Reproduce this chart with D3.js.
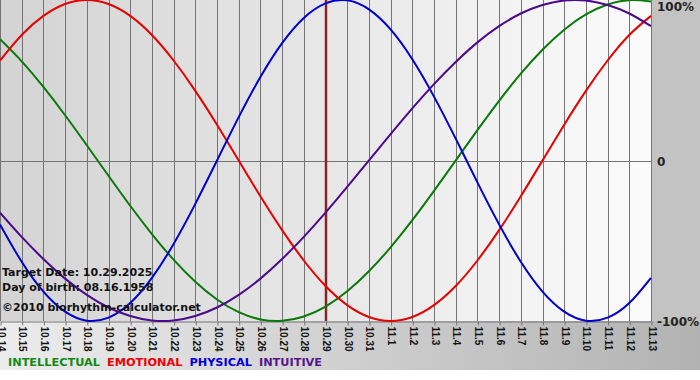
<!DOCTYPE html>
<html>
<head>
<meta charset="utf-8">
<script src="https://cdn.jsdelivr.net/npm/d3@7"></script>
<style>
  body { margin: 0; background: #fff; }
  svg { display: block; }
</style>
</head>
<body>
<div id="chart"></div>
<script>
// day labels along the bottom
const dates = ["10.14", "10.15", "10.16", "10.17", "10.18", "10.19", "10.20", "10.21", "10.22", "10.23",
    "10.24", "10.25", "10.26", "10.27", "10.28", "10.29", "10.30", "10.31", "11.1", "11.2",
    "11.3", "11.4", "11.5", "11.6", "11.7", "11.8", "11.9", "11.10", "11.11", "11.12", "11.13"];

// cycle values per day, -1 .. 1
const intellectual = [0.756, 0.618, 0.458, 0.282, 0.095, -0.095, -0.282, -0.458, -0.618, -0.756,
    -0.866, -0.945, -0.990, -0.999, -0.972, -0.910, -0.815, -0.690, -0.541, -0.372,
    -0.189, 0.000, 0.189, 0.372, 0.541, 0.690, 0.815, 0.910, 0.972, 0.999, 0.990];
const emotional = [0.623, 0.782, 0.901, 0.975, 1.000, 0.975, 0.901, 0.782, 0.623, 0.434,
    0.223, 0.000, -0.223, -0.434, -0.623, -0.782, -0.901, -0.975, -1.000, -0.975,
    -0.901, -0.782, -0.623, -0.434, -0.223, 0.000, 0.223, 0.434, 0.623, 0.782, 0.901];
const physical = [-0.398, -0.631, -0.817, -0.942, -0.998, -0.979, -0.888, -0.731, -0.520, -0.270,
    0.000, 0.270, 0.520, 0.731, 0.888, 0.979, 0.998, 0.942, 0.817, 0.631,
    0.398, 0.136, -0.136, -0.398, -0.631, -0.817, -0.942, -0.998, -0.979, -0.888, -0.731];
const intuitive = [-0.325, -0.476, -0.614, -0.736, -0.837, -0.916, -0.969, -0.997, -0.997, -0.969,
    -0.916, -0.837, -0.736, -0.614, -0.476, -0.325, -0.165, 0.000, 0.165, 0.325,
    0.476, 0.614, 0.736, 0.837, 0.916, 0.969, 0.997, 0.997, 0.969, 0.916, 0.837];

const targetDate = "10.29";
const yTickValues = [1, 0, -1];
const yTickLabels = ["100%", "0", "-100%"];
const infoLines = ["Target Date: 10.29.2025", "Day of birth: 08.16.1958", "\u00a92010 biorhythm-calculator.net"];
const legendNames = ["INTELLECTUAL", "EMOTIONAL", "PHYSICAL", "INTUITIVE"];

const series = [
    {name: "INTELLECTUAL", values: intellectual, color: "#0a780a", label: "#138a13"},
    {name: "EMOTIONAL", values: emotional, color: "#e60000", label: "#f00000"},
    {name: "PHYSICAL", values: physical, color: "#0000cc", label: "#0000e0"},
    {name: "INTUITIVE", values: intuitive, color: "#4b0a8a", label: "#55168c"}
];

const width = 700, height = 380;
const plot = {left: 0, right: 651, top: 0, bottom: 321};

const svg = d3.select("#chart").append("svg")
    .attr("width", width)
    .attr("height", height);

const defs = svg.append("defs");
const bgGrad = defs.append("linearGradient").attr("id", "bg-grad");
bgGrad.append("stop").attr("offset", "0%").attr("stop-color", "#ececec");
bgGrad.append("stop").attr("offset", "100%").attr("stop-color", "#b2b2b2");
const plotGrad = defs.append("linearGradient").attr("id", "plot-grad");
plotGrad.append("stop").attr("offset", "0%").attr("stop-color", "#d3d3d3");
plotGrad.append("stop").attr("offset", "100%").attr("stop-color", "#fbfbfb");

// backgrounds
svg.append("rect").attr("x", 0).attr("y", 0).attr("width", width).attr("height", 370)
    .attr("fill", "url(#bg-grad)");
svg.append("rect").attr("x", plot.right).attr("y", 0).attr("width", width - plot.right).attr("height", plot.bottom)
    .attr("fill", "#c3c3c3");
svg.append("rect").attr("x", plot.left).attr("y", plot.top)
    .attr("width", plot.right - plot.left).attr("height", plot.bottom - plot.top)
    .attr("fill", "url(#plot-grad)");

// scales
const x = d3.scalePoint().domain(dates).range([plot.left, plot.right]);
const y = d3.scaleLinear().domain([-1, 1]).range([plot.bottom, plot.top]);

// vertical grid
svg.append("g")
    .selectAll("line")
    .data(dates)
    .join("line")
    .attr("x1", d => Math.round(x(d)) + 0.5)
    .attr("x2", d => Math.round(x(d)) + 0.5)
    .attr("y1", plot.top)
    .attr("y2", plot.bottom)
    .attr("stroke", "#747474")
    .attr("stroke-width", 1);

// zero line
svg.append("line")
    .attr("x1", plot.left).attr("x2", plot.right)
    .attr("y1", Math.round(y(0)) + 0.5).attr("y2", Math.round(y(0)) + 0.5)
    .attr("stroke", "#747474");

// x axis
const xAxis = svg.append("g")
    .attr("transform", `translate(0.5,${plot.bottom + 0.5})`)
    .call(d3.axisBottom(x).tickSize(4).tickPadding(0).tickSizeOuter(0))
    .call(g => g.select(".domain").attr("stroke", "#747474"))
    .call(g => g.selectAll(".tick line").attr("stroke", "#747474"));
xAxis.selectAll(".tick text")
    .attr("transform", "rotate(90)")
    .attr("x", 5)
    .attr("y", 0)
    .attr("dy", "0.35em")
    .attr("text-anchor", "start")
    .style("font-family", "'Liberation Sans', Arial, sans-serif")
    .style("font-weight", "bold")
    .style("font-size", "10px")
    .attr("fill", "#111");

// target date line
svg.append("line")
    .attr("x1", x(targetDate) + 0.5).attr("x2", x(targetDate) + 0.5)
    .attr("y1", plot.top).attr("y2", plot.bottom)
    .attr("stroke", "#8a2424")
    .attr("stroke-width", 2.5);

// curves
const line = d3.line()
    .x((d, i) => x(dates[i]))
    .y(d => y(d))
    .curve(d3.curveNatural);

svg.append("g")
    .selectAll("path")
    .data(series)
    .join("path")
    .attr("fill", "none")
    .attr("stroke", d => d.color)
    .attr("stroke-width", 2)
    .attr("d", d => line(d.values));

// right side labels
svg.append("g")
    .selectAll("text")
    .data(yTickValues)
    .join("text")
    .attr("x", plot.right + 6)
    .attr("y", (d, i) => i === 0 ? y(d) + 11 : y(d) + 5)
    .text((d, i) => yTickLabels[i])
    .style("font-family", "'DejaVu Sans', Verdana, sans-serif")
    .style("font-weight", "bold")
    .style("font-size", "12px")
    .attr("fill", "#222");

// info text
svg.append("g")
    .selectAll("text")
    .data(infoLines)
    .join("text")
    .attr("x", 2)
    .attr("y", (d, i) => [276, 291, 311][i])
    .text(d => d)
    .style("font-family", "'DejaVu Sans', Verdana, sans-serif")
    .style("font-weight", "bold")
    .style("font-size", "11px")
    .attr("fill", "#111");

// legend
let lx = 8;
legendNames.forEach((name, i) => {
    const t = svg.append("text")
        .attr("x", lx)
        .attr("y", 366)
        .text(name)
        .style("font-family", "'DejaVu Sans', Verdana, sans-serif")
        .style("font-weight", "bold")
        .style("font-size", "11.3px")
        .attr("fill", series[i].label);
    lx += t.node().getComputedTextLength() + 7;
});
</script>
</body>
</html>
